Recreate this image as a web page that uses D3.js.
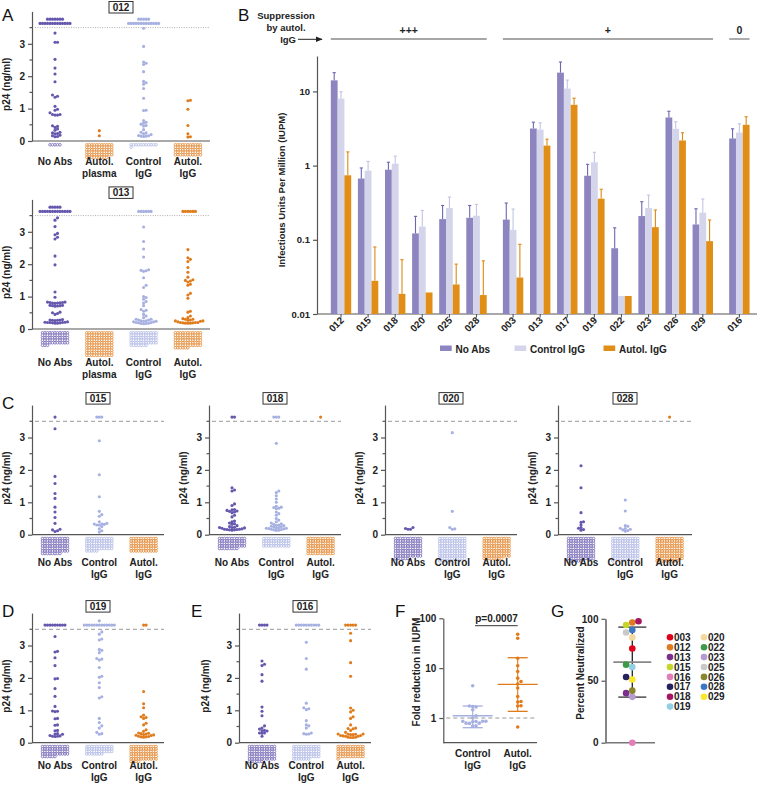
<!DOCTYPE html>
<html><head><meta charset="utf-8">
<script src="https://cdn.jsdelivr.net/npm/d3@7"></script>
<style>body{margin:0;background:#fff}</style>
</head><body><svg id="c" width="757" height="785"></svg>
<script>
// ---------------- DATA ----------------
// Panel A (012): groups No Abs, Autol. plasma, Control IgG, Autol. IgG
const a012Values = [
  [3.33,3.05,3.05,2.52,2.25,2.07,1.83,1.42,1.38,1.35,1.07,0.98,0.95,0.87,0.82,0.82,0.80,0.80,0.47,0.45,0.42,0.37,0.33,0.27,0.25,0.23,0.22,0.18,0.16,0.14,0.13],
  [0.32,0.16],
  [3.48,2.92,2.44,2.40,2.36,2.14,1.84,1.80,1.75,1.62,1.32,0.95,0.94,0.63,0.58,0.55,0.52,0.48,0.46,0.35,0.27,0.25,0.22,0.20,0.17,0.16,0.15,0.15,0.14],
  [1.26,1.24,0.98,0.48,0.22,0.13,0.12]
];
const a012Sat = [20,0,18,0];
const a012Zero = [5,64,12,55];
// Panel A (013)
const a013Values = [
  [3.43,3.36,3.16,2.95,2.91,2.83,2.78,2.25,1.98,1.14,0.98,0.83,0.83,0.82,0.82,0.81,0.80,0.80,0.79,0.73,0.73,0.72,0.72,0.71,0.70,0.52,0.50,0.48,0.45,0.29,0.28,0.28,0.27,0.27,0.26,0.22,0.21,0.21,0.20,0.20,0.20,0.19,0.19,0.18,0.18],
  [],
  [3.15,2.70,2.47,2.22,1.83,1.81,1.80,1.78,1.58,1.35,1.28,1.00,0.97,0.92,0.85,0.80,0.72,0.60,0.58,0.55,0.45,0.40,0.35,0.30,0.30,0.28,0.28,0.25,0.25,0.24,0.24,0.22,0.22,0.20,0.20,0.19,0.18,0.17,0.17,0.16],
  [2.45,2.20,2.15,2.08,1.90,1.75,1.60,1.52,1.50,1.48,1.45,1.38,1.35,1.10,1.05,0.95,0.55,0.52,0.40,0.35,0.32,0.30,0.30,0.28,0.27,0.25,0.25,0.24,0.22,0.20,0.20,0.20,0.19,0.19,0.18,0.18,0.18]
];
const a013Sat = [18,0,6,6];
const a013Zero = [58,110,62,72];
const aCats = [["No Abs"],["Autol.","plasma"],["Control","IgG"],["Autol.","IgG"]];

// Panels C, D, E: groups No Abs, Control IgG, Autol. IgG
const cdeCats = [["No Abs"],["Control","IgG"],["Autol.","IgG"]];
const c015Values = [
  [3.27,1.80,1.58,1.27,1.12,0.85,0.70,0.53,0.35,0.17,0.15,0.12,0.10],
  [2.90,1.85,1.17,0.72,0.62,0.57,0.40,0.35,0.33,0.33,0.32,0.30,0.30,0.25,0.18,0.12,0.08],
  []
];
const c015Sat = [1,3,0];
const c015Zero = [74,60,66];
const c018Values = [
  [1.45,1.38,1.35,0.95,0.90,0.78,0.77,0.75,0.73,0.72,0.70,0.68,0.60,0.55,0.42,0.40,0.36,0.34,0.32,0.28,0.25,0.23,0.22,0.22,0.21,0.20,0.18,0.17,0.17,0.16,0.16,0.15,0.15,0.14],
  [2.82,1.35,1.30,1.20,1.10,1.00,0.88,0.85,0.84,0.82,0.80,0.70,0.65,0.60,0.50,0.45,0.40,0.36,0.34,0.32,0.30,0.29,0.28,0.26,0.25,0.24,0.22,0.21,0.20,0.20,0.19,0.18,0.17,0.16,0.15,0.14,0.13],
  []
];
const c018Sat = [2,3,1];
const c018Zero = [52,44,77];
const c020Values = [[0.22,0.19,0.17,0.17],[3.15,0.72,0.22,0.18,0.17],[]];
const c020Sat = [0,0,0];
const c020Zero = [94,104,96];
const c028Values = [
  [2.13,1.45,0.68,0.40,0.38,0.30,0.22,0.20,0.16,0.14],
  [1.07,0.73,0.28,0.26,0.20,0.19,0.17,0.15,0.13,0.11],
  []
];
const c028Sat = [0,0,1];
const c028Zero = [105,100,108];
const d019Values = [
  [3.28,2.82,2.80,2.62,2.38,1.98,1.97,1.67,1.43,1.12,0.98,0.97,0.96,0.75,0.74,0.55,0.54,0.38,0.37,0.28,0.27,0.26,0.22,0.21,0.20,0.20,0.19],
  [3.42,3.35,3.20,3.17,2.88,2.85,2.78,2.60,2.58,2.55,2.32,2.05,2.02,1.85,1.70,1.42,1.38,0.75,0.62,0.52,0.45,0.32,0.28,0.26],
  [1.58,1.20,1.08,0.85,0.80,0.78,0.75,0.60,0.55,0.40,0.35,0.30,0.29,0.28,0.27,0.25,0.24,0.23,0.22,0.20,0.19,0.18,0.18,0.17]
];
const d019Sat = [9,14,2];
const d019Zero = [50,40,70];
const e016Values = [
  [2.52,2.42,2.38,2.10,1.90,1.10,0.97,0.83,0.52,0.45,0.42,0.38,0.37,0.36,0.30,0.30,0.29,0.20],
  [3.10,2.60,2.27,1.22,1.08,1.05,1.02,0.68,0.55,0.52,0.45,0.30,0.28,0.27,0.26],
  [3.38,3.15,2.47,2.05,1.07,1.00,0.95,0.80,0.75,0.55,0.45,0.44,0.43,0.38,0.32,0.27,0.27,0.26,0.26,0.25,0.25,0.22,0.22,0.21,0.20,0.20,0.17,0.17,0.16,0.16]
];
const e016Sat = [4,10,5];
const e016Zero = [72,62,56];
const p24Ticks = [0,1,2,3];
const satValue = 3.63;
const threshold = 3.5;

// Panel B: IUPM bars
const bGroupLabels = ["+++","+","0"];
const bGroups = [["012","015","018","020","025","028"],["003","013","017","019","022","023","026","029"],["016"]];
const bNoAbs     = [14.1,0.67,0.88,0.122,0.19,0.198, 0.187,3.16,17.9,0.73,0.077,0.209,4.45,0.161, 2.32];
const bNoAbsErr  = [17.9,0.93,1.11,0.207,0.29,0.29, 0.313,3.85,24.9,1.04,0.145,0.326,5.4,0.262, 3.13];
const bControl   = [8.0,0.856,1.06,0.151,0.268,0.211, 0.136,3.06,10.9,1.11,0.0175,0.268,3.13,0.232, 2.79];
const bControlErr= [9.9,1.14,1.34,0.249,0.377,0.30, 0.26,3.78,14.2,1.51,null,0.40,3.9,0.355, 3.66];
const bAutol     = [0.74,0.028,0.0187,0.0195,0.025,0.018, 0.031,1.86,6.6,0.358,0.0175,0.148,2.18,0.096, 3.55];
const bAutolErr  = [1.53,0.080,0.054,null,0.047,0.052, 0.087,2.27,8.1,0.48,null,0.252,2.77,0.185, 4.55];
const bTicks = [0.01,0.1,1,10];
const bSeries = ["No Abs","Control IgG","Autol. IgG"];

// Panel F: fold reduction
const fControl = [4.43,1.74,1.70,1.66,1.46,1.11,1.0,0.86,0.86,0.86,0.85,0.84,0.79,0.79,0.78,0.70,0.69];
const fAutol = [47.8,39.8,15.8,11.2,8.6,6.3,5.4,4.8,4.0,2.7,2.15,2.09,1.76,1.74,0.66];
const fControlStats = [0.64,1.11,1.74]; // low, median, high
const fAutolStats = [1.36,4.75,16.2];
const fTicks = [1,10,100];

// Panel G: percent neutralized
const gIds =    ["003","012","013","015","016","017","018","019","020","022","023","025","026","028","029"];
const gValues = [76,97,40,95,0,53,98,61,85,63,37,89,42,91,51];
const gColors = ["#e1001a","#e07a1e","#7a2f90","#c4d62a","#e27fb9","#25205e","#a6155f","#93cfe3","#f3d89e","#3d9a48","#b69bd3","#c9c9c9","#8a8630","#3b78c4","#f6e82b"];
const gMeanSD = [36.8,65,93.3];
const gTicks = [0,50,100];

// ---------------- DRAWING ----------------
const FF = "'Liberation Sans', Arial, Helvetica, sans-serif";
const purple = "#6557ad", light = "#a6b0e1", orange = "#e07b1c";
const axisCol = "#555";
const svg = d3.select("#c");

function txt(g, x, y, s, opt={}) {
  return g.append("text").attr("x", x).attr("y", y).text(s)
    .attr("font-family", FF).attr("font-weight", opt.weight || "bold")
    .attr("font-size", opt.size || 10).attr("fill", opt.fill || "#222")
    .attr("text-anchor", opt.anchor || "middle");
}
function styleAxis(sel) {
  sel.attr("font-family", FF).attr("font-size", 10).attr("font-weight", "bold");
  sel.select(".domain").attr("stroke", axisCol).attr("stroke-width", 1.2);
  sel.selectAll(".tick line").attr("stroke", axisCol).attr("stroke-width", 1.2);
  sel.selectAll(".tick text").attr("fill", "#222");
}
function swarm(vals, yS, d, maxHalf, preferNeg) {
  const placed = [];
  const sorted = vals.slice().sort((a, b) => a - b);
  const kmax = 2 * Math.floor(maxHalf / d) + 1;
  for (const v of sorted) {
    let py = yS(v), done = false, guard = 0;
    while (!done && guard < 40) {
      for (let k = 0; k <= kmax && !done; k++) {
        const m = Math.ceil(k / 2);
        const s = (k % 2 === 1) ? (preferNeg ? -1 : 1) : (preferNeg ? 1 : -1);
        const off = k === 0 ? 0 : s * m * d;
        if (Math.abs(off) > maxHalf + 0.01) continue;
        if (placed.every(p => (p.x - off) ** 2 + (p.y - py) ** 2 >= d * d * 0.95)) {
          placed.push({ x: off, y: py, v }); done = true;
        }
      }
      if (!done) py -= d * 0.85;
      guard++;
    }
  }
  return placed;
}
function panelLetter(s, x, y) { txt(svg, x, y, s, { weight: "normal", size: 17, anchor: "start", fill: "#111" }); }

function dotPanel(o) {
  const g = svg.append("g");
  const n = o.values.length;
  const x = d3.scalePoint().domain(d3.range(n)).range([o.axisX + 23, o.axisX + 23 + 44.3 * (n - 1)]);
  const y = d3.scaleLinear().domain([0, 4]).range([o.y0, o.y0 - 129.6]);
  const yAx = g.append("g").attr("transform", `translate(${o.axisX},0)`)
    .call(d3.axisLeft(y).tickValues(p24Ticks).tickSize(4).tickSizeOuter(0).tickPadding(3).tickFormat(d3.format("d")));
  styleAxis(yAx);
  g.selectAll("line.minor").data([0.5, 1.5, 2.5, 3.5]).join("line")
    .attr("x1", o.axisX - 2.5).attr("x2", o.axisX).attr("y1", d => y(d)).attr("y2", d => y(d))
    .attr("stroke", axisCol).attr("stroke-width", 1.2);
  g.append("line").attr("x1", o.axisX).attr("x2", o.axisEnd).attr("y1", o.y0).attr("y2", o.y0)
    .attr("stroke", axisCol).attr("stroke-width", 1.2);
  g.append("line").attr("x1", o.axisX + 3).attr("x2", o.axisEnd).attr("y1", y(threshold)).attr("y2", y(threshold))
    .attr("stroke", "#999").attr("stroke-width", o.dotted ? 0.8 : 1)
    .attr("stroke-dasharray", o.dotted ? "1,1.4" : "4,3");
  txt(g, 0, 0, "p24 (ng/ml)").attr("transform", `translate(${o.axisX - (o.labelOff || 22)},${y(1.75)}) rotate(-90)`);
  const top = y(4);
  const cx = (o.axisX + o.axisEnd) / 2;
  const by = Math.max(1.5, top - 12.5);
  g.append("rect").attr("x", cx - 12).attr("y", by).attr("width", 24).attr("height", 11.5)
    .attr("fill", "#fff").attr("stroke", "#333").attr("stroke-width", 1);
  txt(g, cx, by + 9.5, o.title);
  o.values.forEach((vals, i) => {
    const col = o.colors[i];
    const cxi = x(i);
    const pts = swarm(vals, y, 2.5, 22, false);
    const satPts = swarm(d3.range(o.sat[i]).map(() => satValue), y, 2.5, 16, false);
    g.selectAll(null).data(pts.concat(satPts)).join("circle")
      .attr("cx", p => cxi + p.x).attr("cy", p => p.y).attr("r", 1.55).attr("fill", col);
    const nz = o.zeros[i], cols = 11, sp = 2.5;
    const rows = Math.ceil(nz / cols);
    g.selectAll(null).data(d3.range(nz)).join("circle")
      .attr("cx", k => rows === 1 ? cxi + ((k % cols) - (nz - 1) / 2) * sp : cxi + ((k % cols) - 5) * sp)
      .attr("cy", k => o.y0 + 3.8 + Math.floor(k / cols) * sp)
      .attr("r", 1.3).attr("fill", "#fff").attr("stroke", col).attr("stroke-width", 0.7);
    o.cats[i].forEach((line, j) => txt(g, cxi, o.y0 + o.labelDy + j * 12, line));
  });
}

const aColors = [purple, orange, light, orange];
const cColors = [purple, light, orange];

panelLetter("A", 2, 21);
dotPanel({ axisX: 32, axisEnd: 210, y0: 141, values: a012Values, sat: a012Sat, zeros: a012Zero, cats: aCats, colors: aColors, title: "012", dotted: true, labelDy: 24 });
dotPanel({ axisX: 32, axisEnd: 210, y0: 329, values: a013Values, sat: a013Sat, zeros: a013Zero, cats: aCats, colors: aColors, title: "013", dotted: true, labelDy: 37 });

panelLetter("C", 2, 409);
dotPanel({ axisX: 32, axisEnd: 164, y0: 534.7, values: c015Values, sat: c015Sat, zeros: c015Zero, cats: cdeCats, colors: cColors, title: "015", labelDy: 31.5 });
dotPanel({ axisX: 209, axisEnd: 341, y0: 534.7, values: c018Values, sat: c018Sat, zeros: c018Zero, cats: cdeCats, colors: cColors, title: "018", labelDy: 31.5 });
dotPanel({ axisX: 385, axisEnd: 517, y0: 534.7, values: c020Values, sat: c020Sat, zeros: c020Zero, cats: cdeCats, colors: cColors, title: "020", labelDy: 31.5 });
dotPanel({ axisX: 558, axisEnd: 692, y0: 534.7, values: c028Values, sat: c028Sat, zeros: c028Zero, cats: cdeCats, colors: cColors, title: "028", labelDy: 31.5 });

panelLetter("D", 2, 617);
dotPanel({ axisX: 32, axisEnd: 164, y0: 742.7, values: d019Values, sat: d019Sat, zeros: d019Zero, cats: cdeCats, colors: cColors, title: "019", labelDy: 26.5 });
panelLetter("E", 191, 617);
dotPanel({ axisX: 239, axisEnd: 371, y0: 742.7, values: e016Values, sat: e016Sat, zeros: e016Zero, cats: cdeCats, colors: cColors, title: "016", labelDy: 26.5, labelOff: 30 });

// ---------- Panel B ----------
(function () {
  const g = svg.append("g");
  panelLetter("B", 238, 21);
  const ids = bGroups.flat();
  const slots = []; let s = 0;
  bGroups.forEach((gr, gi) => { if (gi > 0) s += 0.35; gr.forEach(() => { slots.push(s); s += 1; }); });
  const xs = d3.scaleLinear().domain([0, 1]).range([341, 368.1]);
  const y = d3.scaleLog().domain([0.01, 30]).range([314, 56]);
  const left = 317;
  const yAx = g.append("g").attr("transform", `translate(${left},0)`)
    .call(d3.axisLeft(y).tickValues(bTicks).tickSize(4).tickSizeOuter(0).tickPadding(3).tickFormat(d => d >= 1 ? d3.format("d")(d) : String(d)));
  styleAxis(yAx);
  yAx.selectAll(".tick text").attr("font-size", 9.5);
  g.append("line").attr("x1", left).attr("x2", 757).attr("y1", 314).attr("y2", 314).attr("stroke", axisCol).attr("stroke-width", 1.2);
  const bw = 6.8;
  const series = [
    { v: bNoAbs, e: bNoAbsErr, fill: "#8c85bf", ec: "#6f66b0" },
    { v: bControl, e: bControlErr, fill: "#d4d5eb", ec: "#c2c5e4" },
    { v: bAutol, e: bAutolErr, fill: "#e08e16", ec: "#dc8a12" }
  ];
  series.forEach((se, si) => {
    const off = (si - 1.5) * bw;
    g.selectAll(null).data(ids).join("rect")
      .attr("x", (d, i) => xs(slots[i]) + off).attr("width", bw)
      .attr("y", (d, i) => y(se.v[i])).attr("height", (d, i) => 314 - y(se.v[i])).attr("fill", se.fill);
    const eg = ids.map((d, i) => i).filter(i => se.e[i] != null);
    g.selectAll(null).data(eg).join("line")
      .attr("x1", i => xs(slots[i]) + off + bw / 2).attr("x2", i => xs(slots[i]) + off + bw / 2)
      .attr("y1", i => y(se.v[i])).attr("y2", i => y(se.e[i])).attr("stroke", se.ec).attr("stroke-width", 1.1);
    g.selectAll(null).data(eg).join("line")
      .attr("x1", i => xs(slots[i]) + off + bw / 2 - 1.6).attr("x2", i => xs(slots[i]) + off + bw / 2 + 1.6)
      .attr("y1", i => y(se.e[i])).attr("y2", i => y(se.e[i])).attr("stroke", se.ec).attr("stroke-width", 1.1);
  });
  ids.forEach((id, i) => {
    const cx = xs(slots[i]);
    g.append("line").attr("x1", cx).attr("x2", cx).attr("y1", 314).attr("y2", 317.5).attr("stroke", axisCol).attr("stroke-width", 1.1);
    txt(g, 0, 0, id, { anchor: "end", size: 9.8 }).attr("transform", `translate(${cx + 3.5},${321}) rotate(-45)`);
  });
  let k = 0;
  bGroups.forEach((gr, gi) => {
    const x1 = xs(slots[k]) - 10.2, x2 = xs(slots[k + gr.length - 1]) + 10.2;
    g.append("line").attr("x1", x1).attr("x2", x2).attr("y1", 39).attr("y2", 39).attr("stroke", "#888").attr("stroke-width", 1.4);
    txt(g, (x1 + x2) / 2, 34, bGroupLabels[gi], { size: 10.5 });
    k += gr.length;
  });
  txt(g, 286, 19, "Suppression", { size: 9.5 });
  txt(g, 286, 31, "by autol.", { size: 9.5 });
  txt(g, 296, 42.5, "IgG", { size: 9.5, anchor: "end" });
  svg.append("defs").append("marker").attr("id", "arr").attr("viewBox", "0 0 10 10").attr("refX", 9).attr("refY", 5)
    .attr("markerWidth", 7).attr("markerHeight", 7).attr("orient", "auto")
    .append("path").attr("d", "M0,1L10,5L0,9z").attr("fill", "#222");
  g.append("line").attr("x1", 298).attr("x2", 322).attr("y1", 39.3).attr("y2", 39.3).attr("stroke", "#222").attr("stroke-width", 1).attr("marker-end", "url(#arr)");
  txt(g, 0, 0, "Infectious Units Per Million (IUPM)", { size: 9.5 }).attr("transform", "translate(285,190) rotate(-90)");
  const lx = [440, 514.5, 603.5];
  bSeries.forEach((nm, i) => {
    g.append("rect").attr("x", lx[i]).attr("y", 345.5).attr("width", 11.7).attr("height", 5.5).attr("fill", series[i].fill);
    txt(g, lx[i] + 15.5, 352.5, nm, { anchor: "start" });
  });
})();

// ---------- Panel F ----------
(function () {
  const g = svg.append("g");
  panelLetter("F", 395, 617);
  const axisX = 443.3, axisEnd = 537;
  const y = d3.scaleLog().domain([0.32, 100]).range([742.7, 618.3]);
  const x = d3.scalePoint().domain(["Control IgG", "Autol. IgG"]).range([472.7, 517.7]);
  const yAx = g.append("g").attr("transform", `translate(${axisX},0)`)
    .call(d3.axisLeft(y).tickValues(fTicks).tickSize(4).tickSizeOuter(0).tickPadding(3).tickFormat(d3.format("d")));
  styleAxis(yAx);
  g.append("line").attr("x1", axisX).attr("x2", axisEnd).attr("y1", 742.7).attr("y2", 742.7).attr("stroke", axisCol).attr("stroke-width", 1.2);
  g.append("line").attr("x1", axisX + 3).attr("x2", axisEnd).attr("y1", y(1)).attr("y2", y(1)).attr("stroke", "#999").attr("stroke-dasharray", "4,3");
  const sets = [{ v: fControl, st: fControlStats, c: light, k: "Control IgG" }, { v: fAutol, st: fAutolStats, c: orange, k: "Autol. IgG" }];
  sets.forEach(se => {
    const cx = x(se.k);
    g.append("line").attr("x1", cx).attr("x2", cx).attr("y1", y(se.st[0])).attr("y2", y(se.st[2])).attr("stroke", se.c).attr("stroke-width", 1.1);
    g.append("line").attr("x1", cx - 20).attr("x2", cx + 20).attr("y1", y(se.st[1])).attr("y2", y(se.st[1])).attr("stroke", se.c).attr("stroke-width", 1.3);
    [se.st[0], se.st[2]].forEach(v => g.append("line").attr("x1", cx - 10).attr("x2", cx + 10).attr("y1", y(v)).attr("y2", y(v)).attr("stroke", se.c).attr("stroke-width", 1.3));
    const pts = swarm(se.v, y, 3.3, 14, false);
    g.selectAll(null).data(pts).join("circle").attr("cx", p => cx + p.x).attr("cy", p => p.y).attr("r", 1.8).attr("fill", se.c);
  });
  txt(g, 472.7, 757, "Control"); txt(g, 472.7, 769, "IgG");
  txt(g, 517.7, 757, "Autol."); txt(g, 517.7, 769, "IgG");
  g.append("line").attr("x1", 475).attr("x2", 517.7).attr("y1", 625.7).attr("y2", 625.7).attr("stroke", "#333").attr("stroke-width", 1);
  txt(g, 496.5, 622, "p=0.0007");
  txt(g, 0, 0, "Fold reduction in IUPM").attr("transform", "translate(420,672) rotate(-90)");
})();

// ---------- Panel G ----------
(function () {
  const g = svg.append("g");
  panelLetter("G", 551, 617);
  const axisX = 605.5, axisEnd = 655;
  const y = d3.scaleLinear().domain([0, 100]).range([742.7, 618.8]);
  const cx = 632.3;
  const yAx = g.append("g").attr("transform", `translate(${axisX},0)`)
    .call(d3.axisLeft(y).tickValues(gTicks).tickSize(4).tickSizeOuter(0).tickPadding(3));
  styleAxis(yAx);
  yAx.select(".domain").attr("stroke", "#666").attr("stroke-width", 1.6);
  g.append("line").attr("x1", axisX).attr("x2", axisEnd).attr("y1", 742.7).attr("y2", 742.7).attr("stroke", "#777").attr("stroke-width", 1.6);
  g.append("line").attr("x1", cx).attr("x2", cx).attr("y1", y(gMeanSD[0])).attr("y2", y(gMeanSD[2])).attr("stroke", "#222").attr("stroke-width", 1.3);
  g.append("line").attr("x1", cx - 19).attr("x2", cx + 19).attr("y1", y(gMeanSD[1])).attr("y2", y(gMeanSD[1])).attr("stroke", "#888").attr("stroke-width", 1.6);
  [gMeanSD[0], gMeanSD[2]].forEach(v => g.append("line").attr("x1", cx - 14).attr("x2", cx + 14).attr("y1", y(v)).attr("y2", y(v)).attr("stroke", "#333").attr("stroke-width", 1.3));
  const pts = swarm(gValues, y, 6.2, 14, true);
  const colorOf = v => gColors[gValues.indexOf(v)];
  g.selectAll(null).data(pts).join("circle").attr("cx", p => cx + p.x).attr("cy", p => p.y).attr("r", 3.3).attr("fill", p => colorOf(p.v));
  txt(g, 0, 0, "Percent Neutralized").attr("transform", "translate(584,673) rotate(-90)");
  gIds.forEach((id, i) => {
    const col = i < 8 ? 0 : 1, row = i < 8 ? i : i - 8;
    const lx = col === 0 ? 670 : 704, ly = 637.3 + row * 9.9;
    g.append("circle").attr("cx", lx).attr("cy", ly).attr("r", 3.3).attr("fill", gColors[i]);
    txt(g, lx + 4, ly + 3.6, id, { anchor: "start" });
  });
})();
</script></body></html>
